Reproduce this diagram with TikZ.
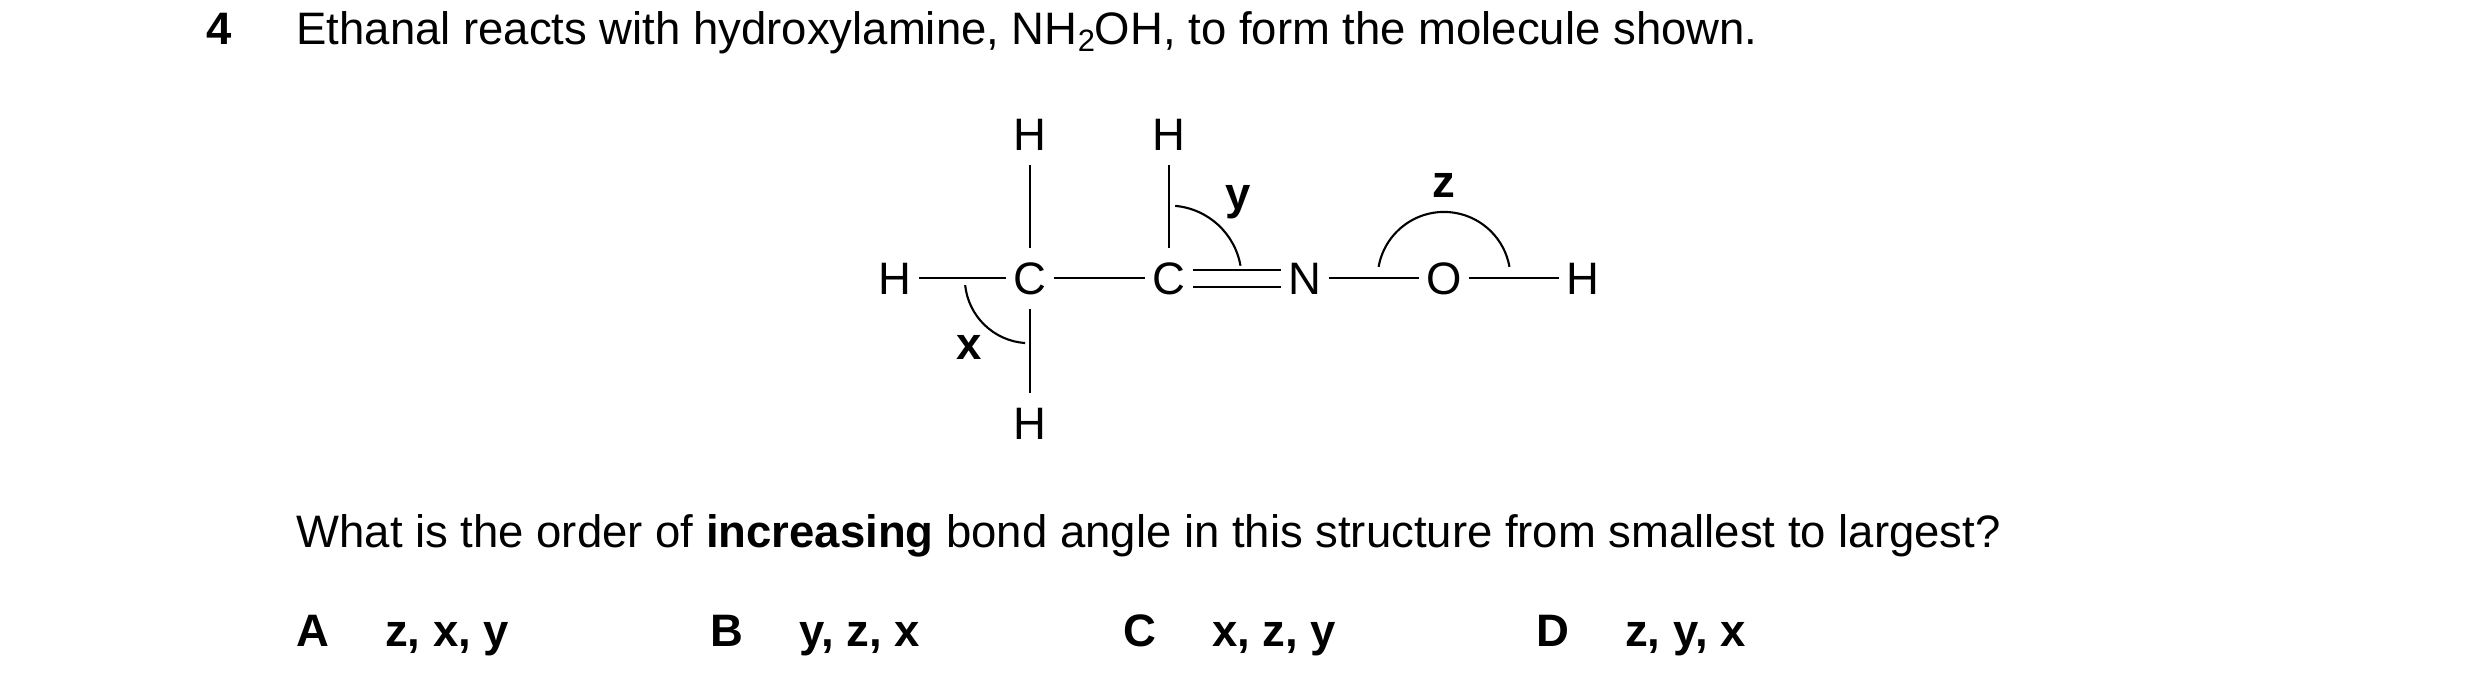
\documentclass[tikz,border=0pt]{standalone}
\usepackage{fontspec}
\setmainfont{Liberation Sans}
\begin{document}
\begin{tikzpicture}[x=0.015816cm,y=-0.015816cm,
  txt/.style={anchor=base west,inner sep=0pt,font=\fontsize{12.95}{15}\selectfont},
  atom/.style={inner sep=0pt,font=\fontsize{12.95}{15}\selectfont},
  lab/.style={inner sep=0pt,font=\fontsize{12.95}{15}\selectfont\bfseries},
  btxt/.style={txt,font=\fontsize{12.95}{15}\selectfont\bfseries},
  bond/.style={line width=0.6pt}]
\useasboundingbox (0,0) rectangle (1568,441);
\node[btxt] (num) at (130,28) {4};
\node[txt] (q1) at (187,28) {Ethanal reacts with hydroxylamine, NH\raisebox{-0.3ex}{\fontsize{8.8}{10}\selectfont 2}OH, to form the molecule shown.};
% atoms
\node[atom] (c1) at (651,176) {C};
\node[atom] (c2) at (739,176) {C};
\node[atom] (n) at (825,176) {N};
\node[atom] (o) at (913,176) {O};
\node[atom] (hl) at (566,176) {H};
\node[atom] (hr) at (1001,176) {H};
\node[atom] (h1) at (651,85) {H};
\node[atom] (h2) at (739,85) {H};
\node[atom] (h3) at (651,268) {H};
% bonds
\draw[bond] ([xshift=2]hl.east) -- ([xshift=-2]c1.west);
\draw[bond] ([xshift=2]c1.east) -- ([xshift=-2]c2.west);
\draw[bond] ([xshift=2,yshift=-2.5]c2.east) -- ([xshift=-2,yshift=-2.5]n.west);
\draw[bond] ([xshift=2,yshift=2.5]c2.east) -- ([xshift=-2,yshift=2.5]n.west);
\draw[bond] ([xshift=2]n.east) -- ([xshift=-2]o.west);
\draw[bond] ([xshift=2]o.east) -- ([xshift=-2]hr.west);
\draw[bond] ([yshift=-4]h1.south) -- ([yshift=4]c1.north);
\draw[bond] ([yshift=-4]h2.south) -- ([yshift=4]c2.north);
\draw[bond] ([yshift=-4]c1.south) -- ([yshift=4]h3.north);
% angle arcs (y axis points down, so angles are clockwise)
\coordinate (cc1) at (651,176);
\coordinate (cc2) at (739,176);
\coordinate (co) at (913,176);
\draw[bond] (cc1) ++(-186:41) arc[start angle=-186,end angle=-266,radius=41];
\draw[bond] (cc2) ++(-85:46) arc[start angle=-85,end angle=-10,radius=46];
\draw[bond] (co) ++(-170:42) arc[start angle=-170,end angle=-10,radius=42];
\node[lab] (lx) at (613,220) {x};
\node[lab] (ly) at (783,128) {y};
\node[lab] (lz) at (913,117) {z};
% question
\node[txt] (q2) at (187,346) {What is the order of \textbf{increasing} bond angle in this structure from smallest to largest?};
\node[btxt] (oa) at (187,409) {A};
\node[btxt] (aa) at (243,409) {z, x, y};
\node[btxt] (ob) at (449,409) {B};
\node[btxt] (ab) at (505,409) {y, z, x};
\node[btxt] (oc) at (710,409) {C};
\node[btxt] (ac) at (766,409) {x, z, y};
\node[btxt] (od) at (971,409) {D};
\node[btxt] (ad) at (1027,409) {z, y, x};
\end{tikzpicture}
\end{document}
